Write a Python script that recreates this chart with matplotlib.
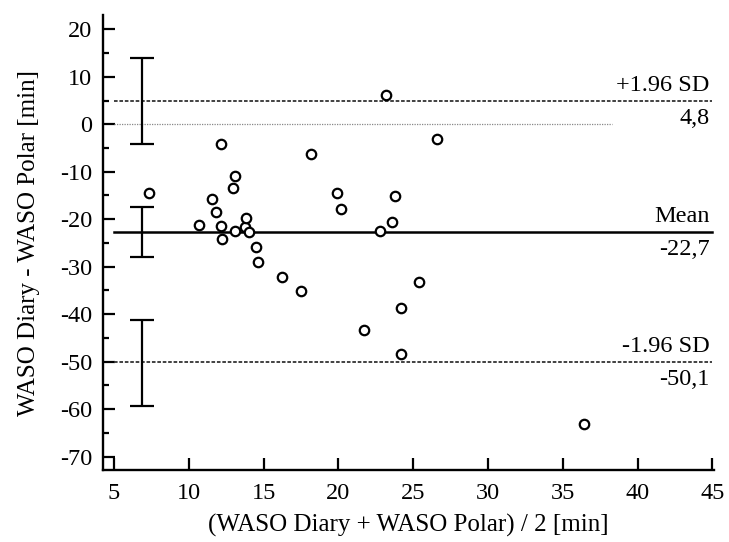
import matplotlib
matplotlib.use("Agg")
import matplotlib.pyplot as plt
from matplotlib.ticker import MultipleLocator

plt.rcParams['font.family'] = ['Liberation Serif', 'DejaVu Serif']
plt.rcParams['axes.unicode_minus'] = False

# Data (mean of methods, difference)
mean_x = [7.35, 10.67, 11.55, 11.85, 12.13, 12.13, 12.2, 12.95, 13.07, 13.07,
          13.73, 13.8, 14.0, 14.5, 14.6, 16.2, 17.5, 18.2, 19.9, 20.2,
          21.7, 22.8, 23.2, 23.6, 23.8, 24.2, 24.2, 25.4, 26.6, 36.4]
diff_y = [-14.5, -21.3, -15.7, -18.4, -4.1, -21.5, -24.2, -13.5, -11.0, -22.4,
          -21.6, -19.8, -22.6, -25.8, -29.0, -32.2, -35.1, -6.3, -14.5, -17.9,
          -43.4, -22.4, 6.2, -20.6, -15.1, -38.6, -48.4, -33.3, -3.15, -63.2]

bias = -22.7
upper_loa = 4.8
lower_loa = -50.1
line_labels = ["+1.96 SD", "Mean", "-1.96 SD"]
line_values = ["4,8", "-22,7", "-50,1"]

# Confidence intervals (low, high) for upper LoA, mean, lower LoA
ci_x = 6.9
ci_low = [-4.2, -27.9, -59.3]
ci_high = [14.0, -17.5, -41.3]

x_ticks = [5, 10, 15, 20, 25, 30, 35, 40, 45]
y_ticks = [20, 10, 0, -10, -20, -30, -40, -50, -60, -70]

fig = plt.figure(figsize=(7.29, 5.42), dpi=100)
ax = fig.add_axes([0.1409, 0.1328, 0.8385, 0.8395])

ax.set_xlim(4.25, 45.1)
ax.set_ylim(-72.8, 23.0)

# zero line
ax.plot([5, 38.3], [0, 0], color='#888888', lw=0.9, ls=(0, (1, 1)))
# limits of agreement
ax.plot([5, 45], [upper_loa, upper_loa], color='#333333', lw=1.3, ls=(0, (2, 1)))
ax.plot([5, 45], [lower_loa, lower_loa], color='#333333', lw=1.3, ls=(0, (2, 1)))
# mean line
ax.plot([5, 45], [bias, bias], color='black', lw=1.8)

# CI error bars
for lo, hi in zip(ci_low, ci_high):
    ax.errorbar([ci_x], [(lo + hi) / 2], yerr=[[(hi - lo) / 2], [(hi - lo) / 2]],
                fmt='none', ecolor='black', elinewidth=1.6, capsize=8.3, capthick=1.6)

ax.plot(mean_x, diff_y, 'o', mfc='white', mec='black', mew=1.6, ms=6.8, ls='none')

for lab, val, yv in zip(line_labels, line_values, [upper_loa, bias, lower_loa]):
    ax.annotate(lab, xy=(45, yv), xytext=(-2, 4), textcoords='offset points',
                ha='right', va='bottom', fontsize=17.5)
    ax.annotate(val, xy=(45, yv), xytext=(-2, -5), textcoords='offset points',
                ha='right', va='top', fontsize=17.5)

ax.set_xticks(x_ticks)
ax.set_yticks(y_ticks)
ax.yaxis.set_minor_locator(MultipleLocator(5))
ax.tick_params(axis='both', which='major', direction='in', length=8.5, width=1.6,
               labelsize=17.5)
ax.tick_params(axis='x', which='major', pad=9)
ax.tick_params(axis='y', which='major', pad=7.5)
ax.tick_params(axis='y', which='minor', direction='in', length=4, width=1.6)
for s in ['top', 'right']:
    ax.spines[s].set_visible(False)
for s in ['left', 'bottom']:
    ax.spines[s].set_linewidth(1.7)

ax.set_xlabel("(WASO Diary + WASO Polar) / 2 [min]", fontsize=18)
ax.set_ylabel("WASO Diary - WASO Polar [min]", fontsize=18)
ax.xaxis.set_label_coords(0.5, -0.097)
ax.yaxis.set_label_coords(-0.1026, 0.5)

fig.savefig("out.png", dpi=100)
